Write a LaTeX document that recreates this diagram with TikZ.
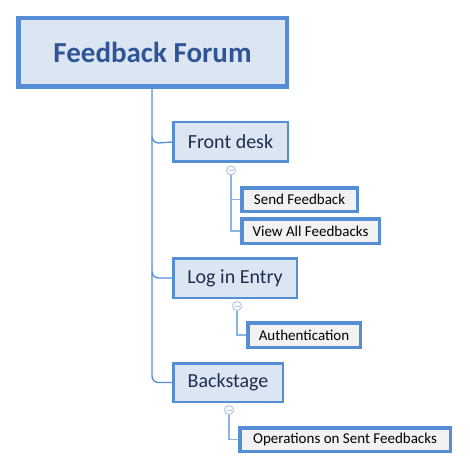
\documentclass[tikz,border=0pt]{standalone}
\usepackage{fontspec}
\setmainfont{Carlito}
\definecolor{bord}{HTML}{558ED5}
\definecolor{rootfill}{HTML}{DCE6F2}
\definecolor{childfill}{HTML}{F2F2F2}
\definecolor{roottext}{HTML}{2F5597}
\definecolor{lvltext}{HTML}{1F2F4F}
\definecolor{subline}{HTML}{8EB4E3}
\definecolor{circ}{HTML}{B4C7E7}
\begin{document}
\begin{tikzpicture}[x=1pt,y=-1pt,
  rootbox/.style={draw=bord,fill=rootfill,line width=4.5pt,inner sep=0pt,
    minimum width=268.5pt,minimum height=68.5pt,font=\fontsize{29}{33}\selectfont\bfseries,text=roottext},
  lvlbox/.style={draw=bord,fill=rootfill,line width=2.5pt,inner sep=0pt,
    minimum height=39.5pt,font=\fontsize{20}{24}\selectfont,text=lvltext},
  leafbox/.style={draw=bord,fill=childfill,line width=3.5pt,inner sep=0pt,
    minimum height=24pt,font=\fontsize{15}{18}\selectfont,text=black},
  mainline/.style={draw=bord,line width=1.3pt},
  subl/.style={draw=subline,line width=1.5pt},
  toggle/.style={circle,draw=circ,fill=white,line width=1pt,minimum size=9pt,inner sep=0pt}
]
\useasboundingbox (0,0) rectangle (469,470);
\node[rootbox] (root) at (152.5,52.5) {Feedback Forum};
\node[lvlbox,minimum width=114.5pt] (front) at (230.5,142) {Front desk};
\node[lvlbox,minimum width=123.5pt] (login) at (235,278) {Log in Entry};
\node[lvlbox,minimum width=109.5pt,minimum height=38.5pt] (back) at (228,382.5) {Backstage};
\node[leafbox,minimum width=115.5pt,minimum height=23.5pt] (send) at (299.5,199.5) {Send Feedback};
\node[leafbox,minimum width=137.5pt,minimum height=24.5pt] (view) at (310.5,231) {View All Feedbacks};
\node[leafbox,minimum width=112.5pt,minimum height=24.5pt] (auth) at (304,335) {Authentication};
\node[leafbox,minimum width=210.5pt,minimum height=23.5pt] (ops) at (345,439.5) {Operations on Sent Feedbacks};
% main trunk
\coordinate (trunktop) at (152,89);
\coordinate (trunkend) at (152,376);
\draw[mainline] (trunktop) -- (trunkend) arc[start angle=180,end angle=90,radius=6.5] -- (back.west);
\coordinate (fa) at (152,136.5);
\draw[mainline] (fa) arc[start angle=180,end angle=90,radius=6.5] -- (front.west);
\coordinate (la) at (152,271.5);
\draw[mainline] (la) arc[start angle=180,end angle=90,radius=6.5] -- (login.west);
% sub branches
\node[toggle] (t1) at (231,170.5) {};
\node[toggle] (t2) at (237,306) {};
\node[toggle] (t3) at (229,410) {};
\draw[subl] (t1.south) -- (231,231) -- (view.west);
\draw[subl] (231,199.5) -- (send.west);
\draw[subl] (t2.south) -- (237,335) -- (auth.west);
\draw[subl] (t3.south) -- (229,439.5) -- (ops.west);
\foreach \t in {t1,t2,t3}{\draw[circ,line width=1pt] ([xshift=-2.5pt]\t.center) -- ([xshift=2.5pt]\t.center);}
\end{tikzpicture}
\end{document}
